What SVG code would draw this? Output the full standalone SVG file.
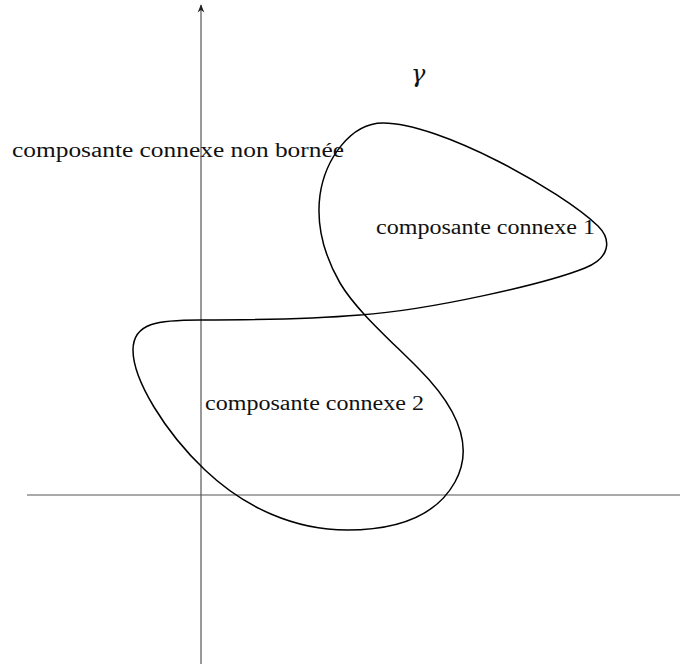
<svg xmlns="http://www.w3.org/2000/svg" width="680" height="666" viewBox="0 0 680 666">
<style>
.ax{stroke:#555;stroke-width:1.2;fill:none}
.cv{stroke:#000;stroke-width:1.5;fill:none}
.t{font-family:"Liberation Serif","Times New Roman",serif;font-size:20px;fill:#111}
.g{font-family:"DejaVu Serif","Liberation Serif",serif;font-style:italic;font-size:24px;fill:#111}
</style>
<defs>
<marker id="ah" viewBox="0 0 10 10" refX="9" refY="5" markerWidth="7" markerHeight="7" orient="auto">
<path d="M0,1 L10,5 L0,9 L3,5 Z" fill="#222"/>
</marker>
</defs>
<g id="connectors">
<line class="ax" x1="201" y1="664" x2="201" y2="5" marker-end="url(#ah)"/>
<line class="ax" x1="27" y1="495" x2="680" y2="495"/>
</g>
<g id="gamma-curve">
<path class="cv" d="M383,123 C440,123 560,190 598,226 C612,240 610,258 585,268 C545,284 430,310 360,315 C300,320 240,320 200,320 C160,320 133,322 133,350 C133,380 165,432 205,470 C245,508 295,530 347,530 C395,530 435,518 455,482 C470,455 468,418 418,368 C388,338 356,310 340,283 C324,255 316,225 320,195 C325,160 350,123 383,123 Z"/>
</g>
<g id="labels">
<text class="t" x="12" y="157" textLength="332" lengthAdjust="spacingAndGlyphs">composante connexe non bornée</text>
<text class="t" x="376" y="234" textLength="219" lengthAdjust="spacingAndGlyphs">composante connexe 1</text>
<text class="t" x="205" y="410" textLength="219" lengthAdjust="spacingAndGlyphs">composante connexe 2</text>
<text class="g" x="411" y="82">γ</text>
</g>
</svg>
